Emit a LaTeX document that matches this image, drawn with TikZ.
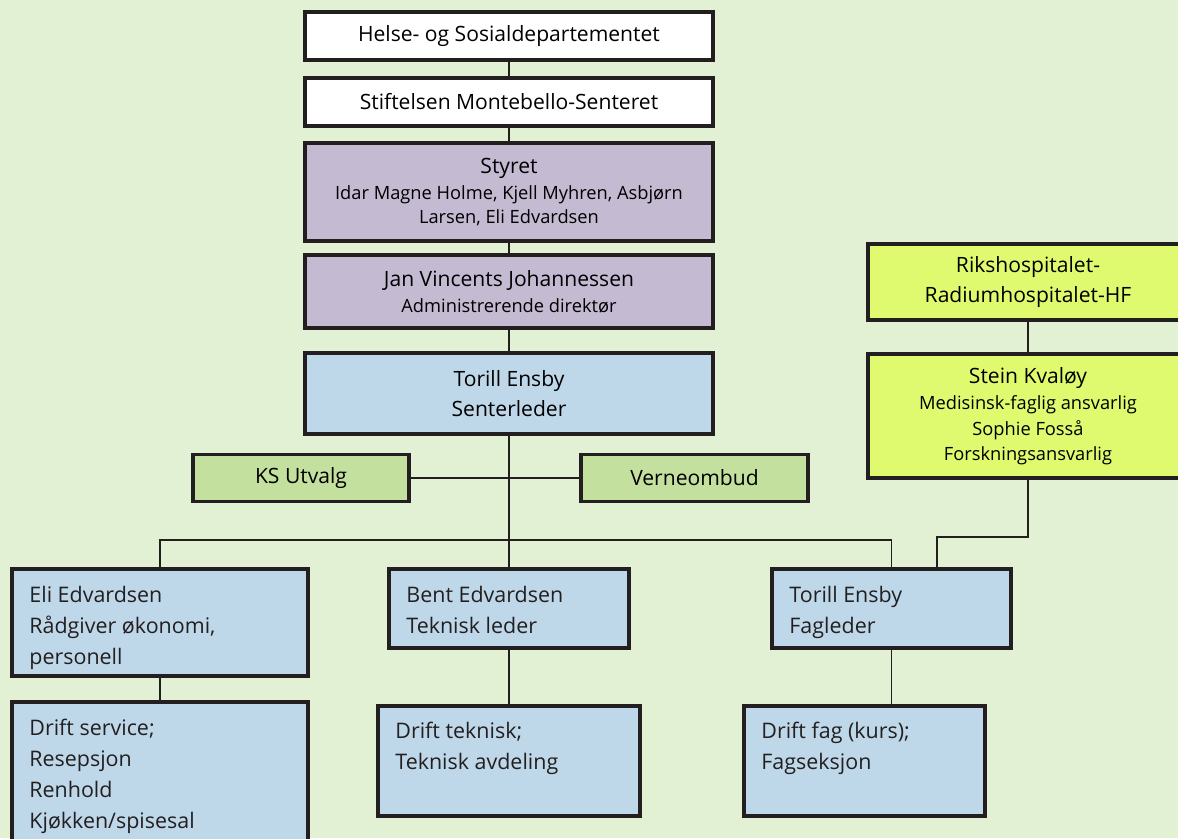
\documentclass[tikz,border=0pt]{standalone}
\usepackage{fontspec}
\setmainfont{Open Sans}

\definecolor{bakgrunn}{RGB}{226,240,211}
\definecolor{kant}{RGB}{35,31,32}
\definecolor{lilla}{RGB}{196,186,210}
\definecolor{blaa}{RGB}{190,216,234}
\definecolor{ksgronn}{RGB}{196,224,158}
\definecolor{gul}{RGB}{223,250,110}

\newcommand\hovedf{\fontsize{12}{17}\selectfont}
\newcommand\underf{\fontsize{10.4}{13.5}\selectfont}
\newcommand\bunnf{\fontsize{12.2}{17.6}\selectfont}

\begin{document}
\begin{tikzpicture}[
    box/.style={draw=kant, line width=2.2pt, inner sep=2pt, align=center, font=\hovedf},
    btext/.style={anchor=north west, inner sep=0pt, align=left, font=\bunnf, text=kant},
    wire/.style={draw=kant, line width=0.8pt}
  ]
  \useasboundingbox (0,0) rectangle (23.56,-16.76);
  \fill[bakgrunn] (0,0) rectangle (23.56,-16.76);

  % midtre kolonne
  \node[box, fill=white, minimum width=8.16cm, minimum height=0.96cm] (hod) at (10.18,-0.72) {Helse- og Sosialdepartementet};
  \node[box, fill=white, minimum width=8.16cm, minimum height=0.96cm] (stift) at (10.18,-2.04) {Stiftelsen Montebello-Senteret};
  \node[box, fill=lilla, minimum width=8.16cm, minimum height=1.96cm] (styret) at (10.18,-3.84) {Styret\\[-2pt]\underf Idar Magne Holme, Kjell Myhren, Asbjørn\\[-3.5pt]\underf Larsen, Eli Edvardsen};
  \node[box, fill=lilla, minimum width=8.16cm, minimum height=1.46cm] (adm) at (10.18,-5.83) {Jan Vincents Johannessen\\[-2pt]\underf Administrerende direktør};
  \node[box, fill=blaa, minimum width=8.16cm, minimum height=1.62cm] (senter) at (10.18,-7.87) {Torill Ensby\\Senterleder};
  \node[box, fill=ksgronn, minimum width=4.32cm, minimum height=0.94cm, line width=1.8pt] (ks) at (6.02,-9.56) {KS Utvalg};
  \node[box, fill=ksgronn, minimum width=4.54cm, minimum height=0.94cm] (verne) at (13.89,-9.56) {Verneombud};

  % hoyre kolonne
  \node[box, fill=gul, minimum width=6.4cm, minimum height=1.52cm] (riks) at (20.56,-5.64) {Rikshospitalet-\\Radiumhospitalet-HF};
  \node[box, fill=gul, minimum width=6.4cm, minimum height=2.48cm] (stein) at (20.56,-8.32) {Stein Kvaløy\\[-2pt]\underf Medisinsk-faglig ansvarlig\\[-2.5pt]\underf Sophie Fosså\\[-2.5pt]\underf Forskningsansvarlig};

  % nederste rader
  \node[box, fill=blaa, minimum width=5.92cm, minimum height=2.14cm] (eli) at (3.2,-12.45) {};
  \node[box, fill=blaa, minimum width=5.92cm, minimum height=2.96cm] (drs) at (3.2,-15.52) {};
  \node[box, fill=blaa, minimum width=4.8cm, minimum height=1.58cm] (bent) at (10.18,-12.17) {};
  \node[box, fill=blaa, minimum width=5.24cm, minimum height=2.2cm] (drtek) at (10.18,-15.22) {};
  \node[box, fill=blaa, minimum width=4.78cm, minimum height=1.58cm] (fag) at (17.83,-12.17) {};
  \node[box, fill=blaa, minimum width=4.82cm, minimum height=2.2cm] (drfag) at (17.29,-15.22) {};

  \node[btext] (eli-t) at ([shift={(0.38,-0.37)}]eli.north west) {Eli Edvardsen\\Rådgiver økonomi,\\personell};
  \node[btext] (drs-t) at ([shift={(0.38,-0.37)}]drs.north west) {Drift service;\\Resepsjon\\Renhold\\Kjøkken/spisesal};
  \node[btext] (bent-t) at ([shift={(0.38,-0.37)}]bent.north west) {Bent Edvardsen\\Teknisk leder};
  \node[btext] (drtek-t) at ([shift={(0.38,-0.36)}]drtek.north west) {Drift teknisk;\\Teknisk avdeling};
  \node[btext] (fag-t) at ([shift={(0.38,-0.37)}]fag.north west) {Torill Ensby\\Fagleder};
  \node[btext] (drfag-t) at ([shift={(0.38,-0.36)}]drfag.north west) {Drift fag (kurs);\\Fagseksjon};

  % linjer
  \foreach \a/\b in {hod/stift, stift/styret, styret/adm, adm/senter, senter/bent, riks/stein, eli/drs, bent/drtek, fag/drfag}
    \draw[wire] (\a.south) -- (\a.south |- \b.north);
  \draw[wire] (ks) -- (verne);
  \coordinate (bus) at (10.18,-10.8);
  \draw[wire] (eli.north) |- (bus) -| (fag.north);
  \coordinate (sk) at (18.74,-10.74);
  \draw[wire] (stein.south) |- (sk) -- (sk |- fag.north);
\end{tikzpicture}
\end{document}
